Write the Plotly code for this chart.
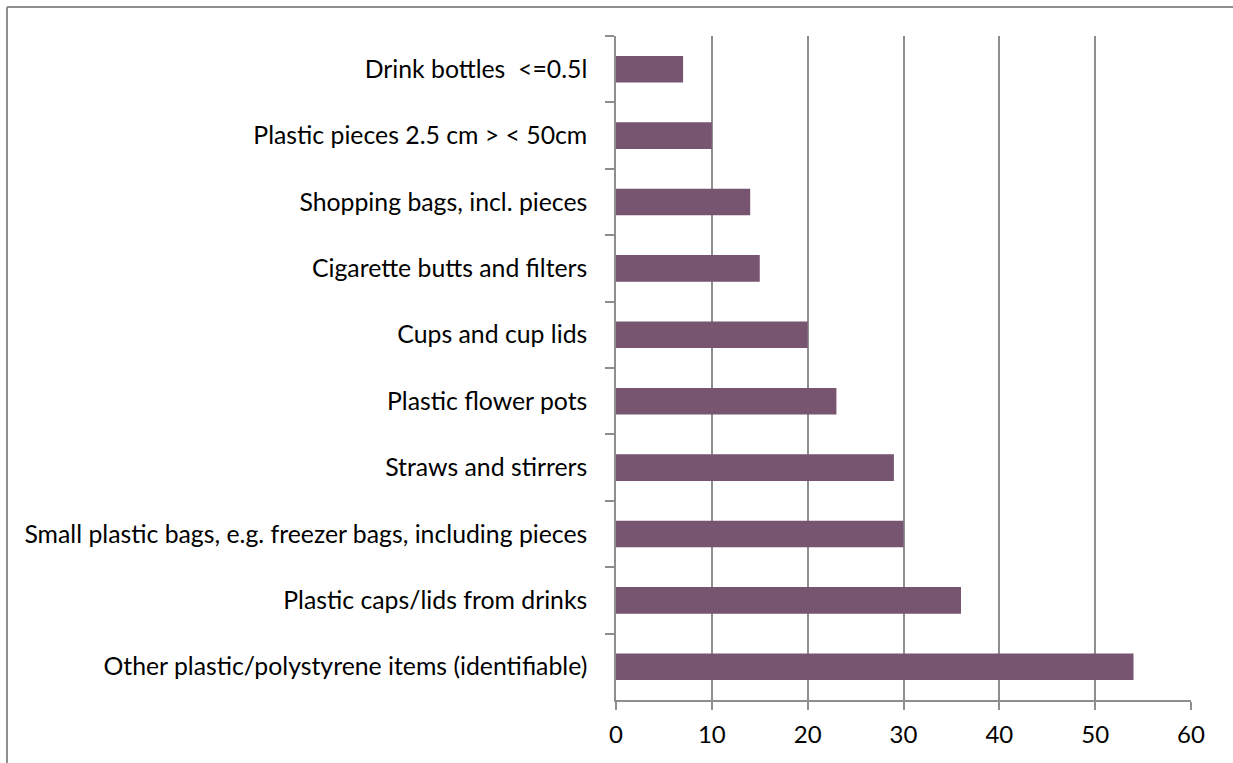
import plotly.graph_objects as go

# Litter items, listed top to bottom as they appear on the chart
items = [
    "Drink bottles  <=0.5l",
    "Plastic pieces 2.5 cm > < 50cm",
    "Shopping bags, incl. pieces",
    "Cigarette butts and filters",
    "Cups and cup lids",
    "Plastic flower pots",
    "Straws and stirrers",
    "Small plastic bags, e.g. freezer bags, including pieces",
    "Plastic caps/lids from drinks",
    "Other plastic/polystyrene items (identifiable)",
]
counts = [7, 10, 14, 15, 20, 23, 29, 30, 36, 54]
x_ticks = [0, 10, 20, 30, 40, 50, 60]

bar_color = "#775571"
grid_color = "#8e8e8e"
font_family = "Lato, 'Noto Sans', sans-serif"

W, H = 1233, 763
M_L, M_R, M_T, M_B = 616, 42, 36, 63
FRAME_X, FRAME_Y = 7, 7

fig = go.Figure(
    go.Bar(
        x=counts,
        y=items,
        orientation="h",
        marker=dict(color=bar_color, line=dict(width=0)),
        hoverinfo="x+y",
    )
)

fig.update_layout(
    width=W,
    height=H,
    margin=dict(l=M_L, r=M_R, t=M_T, b=M_B, autoexpand=False),
    paper_bgcolor="white",
    plot_bgcolor="white",
    bargap=0.6,
    showlegend=False,
    font=dict(family=font_family, size=24.8, color="#000000"),
    xaxis=dict(
        range=[0, 60],
        tickvals=x_ticks,
        showgrid=True,
        gridcolor=grid_color,
        gridwidth=1.5,
        zeroline=False,
        showline=True,
        linecolor=grid_color,
        linewidth=1.5,
        ticks="outside",
        ticklen=8,
        tickcolor=grid_color,
        tickwidth=1.5,
        ticklabelstandoff=4,
        tickfont=dict(size=24),
    ),
    yaxis=dict(
        type="category",
        autorange="reversed",
        showgrid=False,
        showline=True,
        linecolor=grid_color,
        linewidth=1.5,
        ticks="outside",
        tickson="boundaries",
        ticklen=9,
        tickcolor=grid_color,
        tickwidth=1.5,
        ticklabelstandoff=22,
    ),
)

# chart frame: left edge and top edge, positioned in pixels from the plot corner
frame = dict(color=grid_color, width=2)
fig.add_shape(type="line", xref="paper", yref="paper",
              xsizemode="pixel", ysizemode="pixel", xanchor=0, yanchor=1,
              x0=FRAME_X - M_L, x1=FRAME_X - M_L, y0=M_T - FRAME_Y, y1=M_T - H - 10,
              line=frame)
fig.add_shape(type="line", xref="paper", yref="paper",
              xsizemode="pixel", ysizemode="pixel", xanchor=0, yanchor=1,
              x0=FRAME_X - M_L, x1=W - M_L + 10, y0=M_T - FRAME_Y, y1=M_T - FRAME_Y,
              line=frame)

fig.write_html("out.html", config={"displayModeBar": False})
